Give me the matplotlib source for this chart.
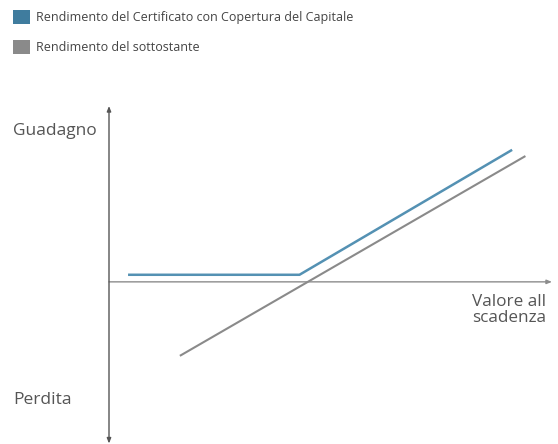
import matplotlib.pyplot as plt
from matplotlib.patches import Patch

# Data (x = valore del sottostante, y = rendimento), arbitrary units
cert_x = [4.3, 43.0, 91.0]
cert_y = [1.6, 1.6, 29.8]
under_x = [16.0, 94.0]
under_y = [-16.7, 28.4]

labels = ["Rendimento del Certificato con Copertura del Capitale",
          "Rendimento del sottostante"]
colors = ["#3f7c9e", "#8a8a8a"]

plt.rcParams['font.family'] = ['Open Sans', 'DejaVu Sans']

fig = plt.figure(figsize=(5.58, 4.44), dpi=100)
ax = fig.add_axes([109 / 558, 4 / 444, 443 / 558, 334 / 444])
ax.set_xlim(0, 100)
ax.set_ylim(-35.7, 39.7)
ax.axis('off')

axis_color = "#8c8c8c"
# x axis
ax.annotate('', xy=(100, 0), xytext=(0, 0),
            arrowprops=dict(arrowstyle='-|>,head_length=0.3,head_width=0.12',
                            color=axis_color, lw=1, shrinkA=0, shrinkB=0))
# y axis (arrow both ends)
ax.annotate('', xy=(0, 39.7), xytext=(0, -36.5),
            arrowprops=dict(arrowstyle='<|-|>,head_length=0.3,head_width=0.12',
                            color="#555555", lw=1, shrinkA=0, shrinkB=0))

ax.plot(under_x, under_y, color=colors[1], lw=1.5, solid_capstyle='butt')
ax.plot(cert_x, cert_y, color="#5491b3", lw=1.8, solid_capstyle='butt')

text_color = "#555555"
fig.text(13 / 558, 1 - 131 / 444, "Guadagno", fontsize=12.5, color=text_color,
         va='center', ha='left')
fig.text(13 / 558, 1 - 400 / 444, "Perdita", fontsize=12.5, color=text_color,
         va='center', ha='left')
fig.text(472 / 558, 1 - 310 / 444, "Valore all\nscadenza", fontsize=12.3,
         color=text_color, va='center', ha='left', linespacing=1.05)

handles = [Patch(facecolor=c, edgecolor='none') for c in colors]
fig.legend(handles, labels, loc='upper left', bbox_to_anchor=(0.008, 0.998),
           frameon=False, fontsize=9.0, handlelength=1.36, handleheight=1.36,
           handletextpad=0.5, labelspacing=1.3, labelcolor="#444444",
           borderaxespad=0.3)

fig.savefig("out.png", dpi=100)
